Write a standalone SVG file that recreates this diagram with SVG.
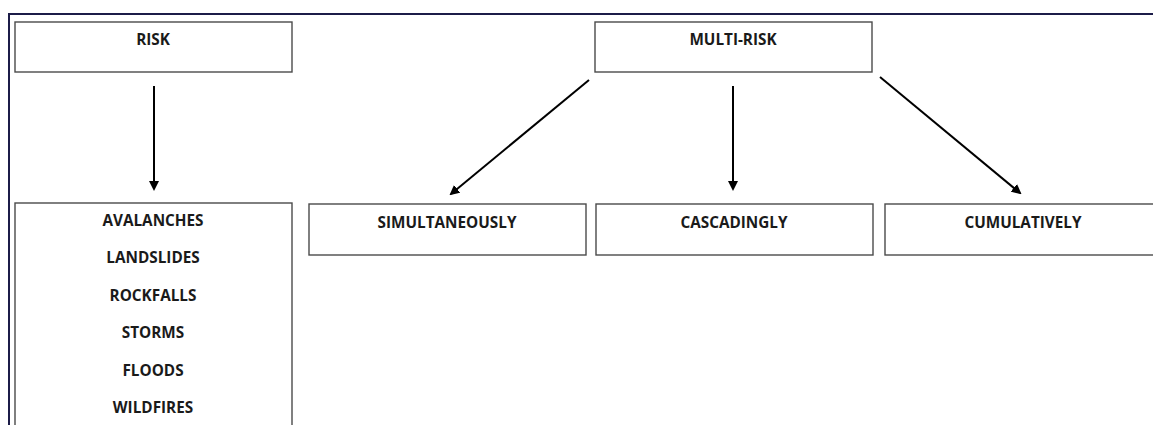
<svg xmlns="http://www.w3.org/2000/svg" width="1153" height="425" viewBox="0 0 1153 425">
<style>
.frame{fill:none;stroke:#1c1c48;stroke-width:2}
.box{fill:#fff;stroke:#4a4a4a;stroke-width:1.4}
.t{font-family:"Open Sans","Liberation Sans",Arial,sans-serif;font-weight:bold;font-size:15.3px;fill:#1a1a1a;text-anchor:middle}
.c{stroke:#000;stroke-width:2;fill:none;marker-end:url(#ah)}
</style>
<defs>
<marker id="ah" markerWidth="10" markerHeight="10" refX="8" refY="5" orient="auto" markerUnits="userSpaceOnUse">
<path d="M0,0 L10,5 L0,10 Z" fill="#000"/>
</marker>
</defs>
<rect width="1153" height="425" fill="#fff"/>
<path class="frame" d="M9,430 L9,14 L1160,14"/>
<g id="risk"><rect class="box" x="15" y="22" width="277" height="50"/><text class="t" x="153" y="44.5">RISK</text></g>
<g id="hazards"><rect class="box" x="15" y="203" width="277" height="240"/>
<text class="t" x="153" y="226">AVALANCHES</text>
<text class="t" x="153" y="263">LANDSLIDES</text>
<text class="t" x="153" y="300.5">ROCKFALLS</text>
<text class="t" x="153" y="338">STORMS</text>
<text class="t" x="153" y="375.5">FLOODS</text>
<text class="t" x="153" y="412.5">WILDFIRES</text>
</g>
<g id="multirisk"><rect class="box" x="595" y="22" width="277" height="50"/><text class="t" x="733" y="44.5">MULTI-RISK</text></g>
<g id="simultaneously"><rect class="box" x="309" y="204" width="277" height="51"/><text class="t" x="447" y="228">SIMULTANEOUSLY</text></g>
<g id="cascadingly"><rect class="box" x="596" y="204" width="277" height="51"/><text class="t" x="734" y="228">CASCADINGLY</text></g>
<g id="cumulatively"><rect class="box" x="885" y="204" width="277" height="51"/><text class="t" x="1023" y="228">CUMULATIVELY</text></g>
<g id="connectors">
<line class="c" x1="154" y1="86" x2="154" y2="189"/>
<line class="c" x1="589" y1="80" x2="451" y2="194"/>
<line class="c" x1="733" y1="86" x2="733" y2="189"/>
<line class="c" x1="880" y1="77" x2="1020" y2="193"/>
</g>
</svg>
